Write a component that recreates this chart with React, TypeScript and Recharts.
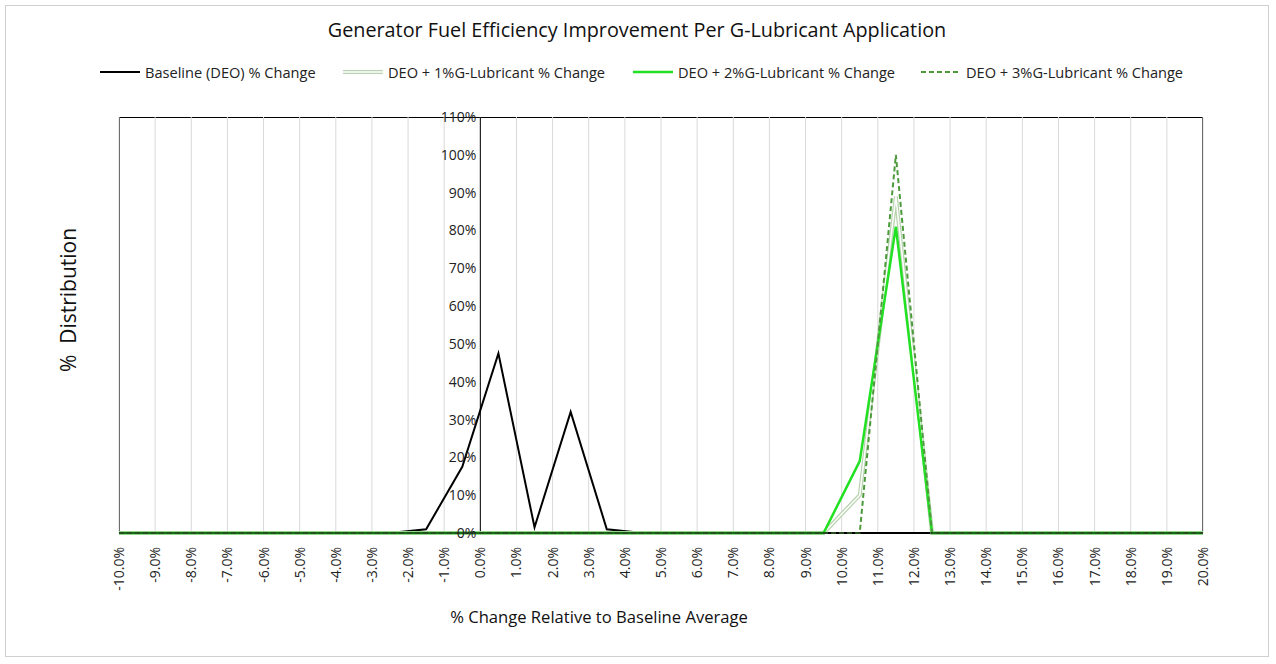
import React from 'react';
import { LineChart, Line, XAxis, YAxis, CartesianGrid, ReferenceLine } from 'recharts';

const binCenters = [-10, -9.5, -8.5, -7.5, -6.5, -5.5, -4.5, -3.5, -2.5, -1.5, -0.5, 0.5, 1.5, 2.5, 3.5, 4.5, 5.5, 6.5, 7.5, 8.5, 9.5, 10.5, 11.5, 12.5, 13.5, 14.5, 15.5, 16.5, 17.5, 18.5, 19.5, 20];
const baseline = [0, 0, 0, 0, 0, 0, 0, 0, 0, 1, 17.5, 47.5, 1.5, 32, 1, 0, 0, 0, 0, 0, 0, 0, 0, 0, 0, 0, 0, 0, 0, 0, 0, 0];
const lub1 = [0, 0, 0, 0, 0, 0, 0, 0, 0, 0, 0, 0, 0, 0, 0, 0, 0, 0, 0, 0, 0, 10, 89, 0, 0, 0, 0, 0, 0, 0, 0, 0];
const lub2 = [0, 0, 0, 0, 0, 0, 0, 0, 0, 0, 0, 0, 0, 0, 0, 0, 0, 0, 0, 0, 0, 19, 81, 0, 0, 0, 0, 0, 0, 0, 0, 0];
const lub3 = [0, 0, 0, 0, 0, 0, 0, 0, 0, 0, 0, 0, 0, 0, 0, 0, 0, 0, 0, 0, 0, 0, 100, 0, 0, 0, 0, 0, 0, 0, 0, 0];
const xTicks = [-10, -9, -8, -7, -6, -5, -4, -3, -2, -1, 0, 1, 2, 3, 4, 5, 6, 7, 8, 9, 10, 11, 12, 13, 14, 15, 16, 17, 18, 19, 20];
const yTicks = [0, 10, 20, 30, 40, 50, 60, 70, 80, 90, 100, 110];

const data = binCenters.map((x, i) => ({ x, baseline: baseline[i], lub1: lub1[i], lub2: lub2[i], lub3: lub3[i] }));

const FONT = '"Open Sans", "Noto Sans", sans-serif';
const PLOT_W = 1084;
const ZERO_OFFSET = (10 / 30) * PLOT_W;

const XTick = (props: any) => {
  const { x, y, payload } = props;
  const tx = x + 5;
  const ty = y + 6;
  return (
    <text x={tx} y={ty} transform={`rotate(-90, ${tx}, ${ty})`} textAnchor="end"
      fontSize={14} fill="#222" fontFamily={FONT}>
      {payload.value.toFixed(1)}%
    </text>
  );
};

const YTick = (props: any) => {
  const { x, y, payload } = props;
  return (
    <text x={119 + ZERO_OFFSET - 4} y={y + 5} textAnchor="end" fontSize={14} fill="#222" fontFamily={FONT}>
      {payload.value}%
    </text>
  );
};

const legendItems = [
  { left: 100, label: 'Baseline (DEO) % Change', kind: 'base' },
  { left: 343, label: 'DEO + 1%G-Lubricant % Change', kind: 'l1' },
  { left: 633, label: 'DEO + 2%G-Lubricant % Change', kind: 'l2' },
  { left: 921, label: 'DEO + 3%G-Lubricant % Change', kind: 'l3' },
];

const Sample = ({ kind }: { kind: string }) => (
  <svg width={40} height={10} style={{ marginRight: 5 }}>
    {kind === 'base' && <line x1={0} x2={40} y1={5} y2={5} stroke="#000" strokeWidth={2} />}
    {kind === 'l1' && <>
      <line x1={0} x2={40} y1={5} y2={5} stroke="#b9d3b0" strokeWidth={4} />
      <line x1={0} x2={40} y1={5} y2={5} stroke="#fff" strokeWidth={1.5} />
    </>}
    {kind === 'l2' && <line x1={0} x2={40} y1={5} y2={5} stroke="#22e022" strokeWidth={2.5} />}
    {kind === 'l3' && <line x1={0} x2={40} y1={5} y2={5} stroke="#4c9a3c" strokeWidth={2} strokeDasharray="5 3" />}
  </svg>
);

export default function App() {
  return (
    <div style={{ position: 'absolute', left: 0, top: 0, width: 1276, height: 664, background: '#fff', fontFamily: FONT }}>
      <div style={{ position: 'absolute', left: 5, top: 5, width: 1262, height: 650, border: '1px solid #d0d0d0' }} />
      <div style={{ position: 'absolute', left: 0, width: 1274, top: 16, textAlign: 'center', fontSize: 19.8, color: '#111' }}>
        Generator Fuel Efficiency Improvement Per G-Lubricant Application
      </div>
      {legendItems.map((it) => (
        <div key={it.label} style={{ position: 'absolute', left: it.left, top: 62, display: 'flex', alignItems: 'center', fontSize: 14.6, color: '#222', whiteSpace: 'nowrap' }}>
          <Sample kind={it.kind} />
          {it.label}
        </div>
      ))}
      <div style={{ position: 'absolute', left: 119, top: 117, width: PLOT_W, height: 417, border: '1px solid #000', boxSizing: 'border-box' }} />
      <div style={{ position: 'absolute', left: 68, top: 300, transform: 'translate(-50%, -50%) rotate(-90deg)', fontSize: 21, color: '#111', whiteSpace: 'nowrap' }}>
        %&nbsp;&nbsp;Distribution
      </div>
      <div style={{ position: 'absolute', left: 0, width: 1198, top: 605, textAlign: 'center', fontSize: 16.6, color: '#111' }}>
        % Change Relative to Baseline Average
      </div>
      <div style={{ position: 'absolute', left: 0, top: 0 }}>
        <LineChart width={1276} height={664} data={data} margin={{ left: 118, right: 73, top: 117, bottom: 0 }}>
          <CartesianGrid vertical horizontal={false} stroke="#d9d9d9" />
          <XAxis dataKey="x" type="number" domain={[-10, 20]} ticks={xTicks} interval={0} tick={<XTick />}
            axisLine={{ stroke: '#000' }} tickLine={false} height={131} allowDecimals />
          <YAxis type="number" domain={[0, 110]} ticks={yTicks} width={1} tick={<YTick />} axisLine={false} tickLine={false} interval={0} />
          <ReferenceLine x={0} stroke="#000" strokeWidth={1} />
          <Line dataKey="baseline" stroke="#000" strokeWidth={2} dot={false} type="linear" isAnimationActive={false} />
          <Line dataKey="lub1" stroke="#b9d3b0" strokeWidth={4} dot={false} type="linear" isAnimationActive={false} />
          <Line dataKey="lub1" stroke="#fff" strokeWidth={1.5} dot={false} type="linear" isAnimationActive={false} />
          <Line dataKey="lub2" stroke="#22e022" strokeWidth={2.5} dot={false} type="linear" isAnimationActive={false} />
          <Line dataKey="lub3" stroke="#4c9a3c" strokeWidth={2} strokeDasharray="5 3" dot={false} type="linear" isAnimationActive={false} />
        </LineChart>
      </div>
    </div>
  );
}
